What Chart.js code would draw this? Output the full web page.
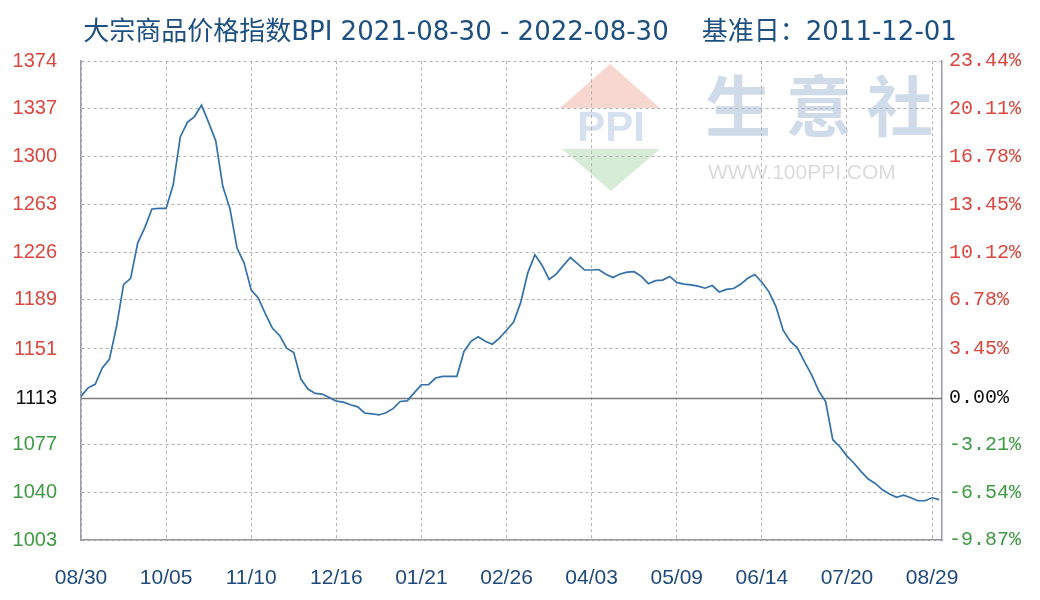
<!DOCTYPE html>
<html>
<head>
<meta charset="utf-8">
<script src="https://cdn.jsdelivr.net/npm/chart.js@4.4.1/dist/chart.umd.min.js"></script>
<style>
  html, body { margin: 0; padding: 0; background: #ffffff; }
  #wrap { width: 1040px; height: 600px; }
</style>
</head>
<body>
<div id="wrap"><canvas id="c" width="1040" height="600"></canvas></div>
<script>
// ---- data ----
const titleText = '大宗商品价格指数BPI 2021-08-30 - 2022-08-30    基准日：2011-12-01';
const xTickLabels = ['08/30','10/05','11/10','12/16','01/21','02/26','04/03','05/09','06/14','07/20','08/29'];
const pointsPerLabel = 12;
const leftTickLabels = [1003,1040,1077,1113,1151,1189,1226,1263,1300,1337,1374];
const rightTickLabels = ['-9.87%','-6.54%','-3.21%','0.00%','3.45%','6.78%','10.12%','13.45%','16.78%','20.11%','23.44%'];
const baseValue = 1113;
const bpiValues = [
  1114.3,1120.9,1123.6,1136.3,1143.0,1168.2,1200.9,1205.7,1233.3,1245.1,
  1259.5,1259.9,1259.9,1278.2,1315.3,1326.6,1331.1,1340.0,1326.4,1312.3,
  1276.9,1259.8,1229.2,1217.6,1196.6,1190.6,1178.2,1167.0,1161.5,1151.6,
  1148.2,1127.7,1120.0,1116.6,1116.1,1113.5,1110.6,1109.8,1107.8,1106.2,
  1101.4,1100.8,1099.9,1101.6,1104.8,1110.3,1110.8,1117.2,1123.3,1123.4,
  1128.5,1129.8,1129.8,1129.8,1149.1,1156.9,1160.5,1157.0,1154.7,1159.5,
  1165.5,1171.9,1187.1,1210.0,1224.0,1215.9,1204.9,1209.0,1215.6,1221.9,
  1217.1,1212.2,1212.2,1212.6,1209.0,1206.3,1209.1,1210.5,1210.9,1207.3,
  1201.6,1204.0,1204.4,1207.2,1202.6,1201.3,1200.7,1199.7,1198.1,1200.2,
  1195.2,1197.2,1197.9,1201.1,1205.8,1208.7,1202.7,1195.3,1183.6,1165.6,
  1157.1,1151.9,1141.2,1131.2,1118.7,1110.0,1080.7,1075.3,1068.0,1062.5,
  1056.0,1050.2,1046.8,1041.9,1038.6,1036.1,1037.8,1035.8,1033.4,1033.4,
  1035.7,1034.3
];

// ---- colours / styles ----
const RED = '#d9473f', GREEN = '#3f9a43', BLACK = '#111111';
function tickColor(v) { return v > baseValue ? RED : (v < baseValue ? GREEN : BLACK); }

const points = bpiValues.map((v, i) => ({ x: i, y: v }));

const watermark = {
  id: 'watermark',
  beforeDraw(chart) {
    const ctx = chart.ctx;
    ctx.save();
    // PPI logo
    ctx.fillStyle = 'rgba(236,150,135,0.38)';
    ctx.beginPath();
    ctx.moveTo(610, 64); ctx.lineTo(660, 108); ctx.lineTo(560, 108); ctx.closePath(); ctx.fill();
    ctx.fillStyle = 'rgba(150,205,150,0.38)';
    ctx.beginPath();
    ctx.moveTo(562, 149); ctx.lineTo(660, 149); ctx.lineTo(611, 191); ctx.closePath(); ctx.fill();
    ctx.fillStyle = 'rgba(150,180,215,0.40)';
    ctx.font = 'bold 42px "Liberation Sans", Arial, sans-serif';
    ctx.textAlign = 'center'; ctx.textBaseline = 'middle';
    ctx.fillText('PPI', 611, 129);
    // 生意社
    ctx.fillStyle = 'rgba(170,190,215,0.55)';
    ctx.font = 'bold 66px "Noto Sans CJK SC", sans-serif';
    ctx.textAlign = 'left';
    ctx.fillText('生 意 社', 705, 106);
    ctx.fillStyle = 'rgba(190,190,190,0.55)';
    ctx.font = '21px "Liberation Sans", Arial, sans-serif';
    ctx.fillText('WWW.100PPI.COM', 708, 173);
    ctx.restore();
  }
};

const baseLine = {
  id: 'baseLine',
  beforeDatasetsDraw(chart) {
    const { ctx, chartArea } = chart;
    const y = Math.round(chart.scales.y.getPixelForValue(baseValue)) + 0.5;
    ctx.save();
    ctx.strokeStyle = '#7b7b7b';
    ctx.lineWidth = 1.5;
    ctx.setLineDash([]);
    ctx.beginPath();
    ctx.moveTo(chartArea.left, y);
    ctx.lineTo(chartArea.right, y);
    ctx.stroke();
    ctx.restore();
  }
};

new Chart(document.getElementById('c'), {
  type: 'line',
  data: {
    datasets: [{
      data: points,
      borderColor: '#3471ab',
      borderWidth: 1.7,
      pointRadius: 0,
      tension: 0,
      fill: false
    }]
  },
  options: {
    responsive: false,
    animation: false,
    devicePixelRatio: 1,
    layout: { padding: 0 },
    plugins: {
      legend: { display: false },
      tooltip: { enabled: false },
      title: {
        display: true,
        text: titleText,
        align: 'center',
        color: '#1d4f80',
        font: { family: '"DejaVu Sans", "Noto Sans CJK SC", sans-serif', size: 26, weight: 'normal' },
        padding: { top: 18, bottom: 12 }
      }
    },
    scales: {
      x: {
        type: 'linear',
        min: 0,
        max: 121.4,
        afterBuildTicks: (s) => { s.ticks = xTickLabels.map((_, i) => ({ value: i * pointsPerLabel })); },
        afterFit: (s) => { s.height = 60; },
        ticks: {
          autoSkip: false,
          maxRotation: 0,
          padding: 26,
          color: '#1f4a7c',
          font: { family: '"Liberation Sans", Arial, sans-serif', size: 21 },
          callback: (v, i) => xTickLabels[i]
        },
        grid: { color: '#b3b3b3', lineWidth: 1, drawTicks: false },
        border: { display: true, color: '#999999', width: 1.5, dash: [3, 3] }
      },
      y: {
        type: 'linear',
        position: 'left',
        min: leftTickLabels[0],
        max: leftTickLabels[leftTickLabels.length - 1],
        afterBuildTicks: (s) => { s.ticks = leftTickLabels.map(v => ({ value: v })); },
        afterFit: (s) => { s.width = 81; },
        ticks: {
          autoSkip: false,
          padding: 24,
          color: (ctx) => tickColor(ctx.tick.value),
          font: { family: '"Liberation Sans", Arial, sans-serif', size: 20 },
          callback: (v) => String(v)
        },
        grid: { color: '#b3b3b3', lineWidth: 1, drawTicks: false },
        border: { display: true, color: '#9a9aae', width: 1.5, dash: [3, 3] }
      },
      y2: {
        type: 'linear',
        position: 'right',
        min: leftTickLabels[0],
        max: leftTickLabels[leftTickLabels.length - 1],
        afterBuildTicks: (s) => { s.ticks = leftTickLabels.map(v => ({ value: v })); },
        afterFit: (s) => { s.width = 98; },
        ticks: {
          autoSkip: false,
          padding: 7,
          color: (ctx) => tickColor(ctx.tick.value),
          font: { family: '"Liberation Mono", "DejaVu Sans Mono", monospace', size: 20 },
          callback: (v, i) => rightTickLabels[i]
        },
        grid: { display: false, drawTicks: false },
        border: { display: true, color: '#9a9aae', width: 1.5 }
      }
    }
  },
  plugins: [watermark, baseLine]
});
</script>
</body>
</html>
